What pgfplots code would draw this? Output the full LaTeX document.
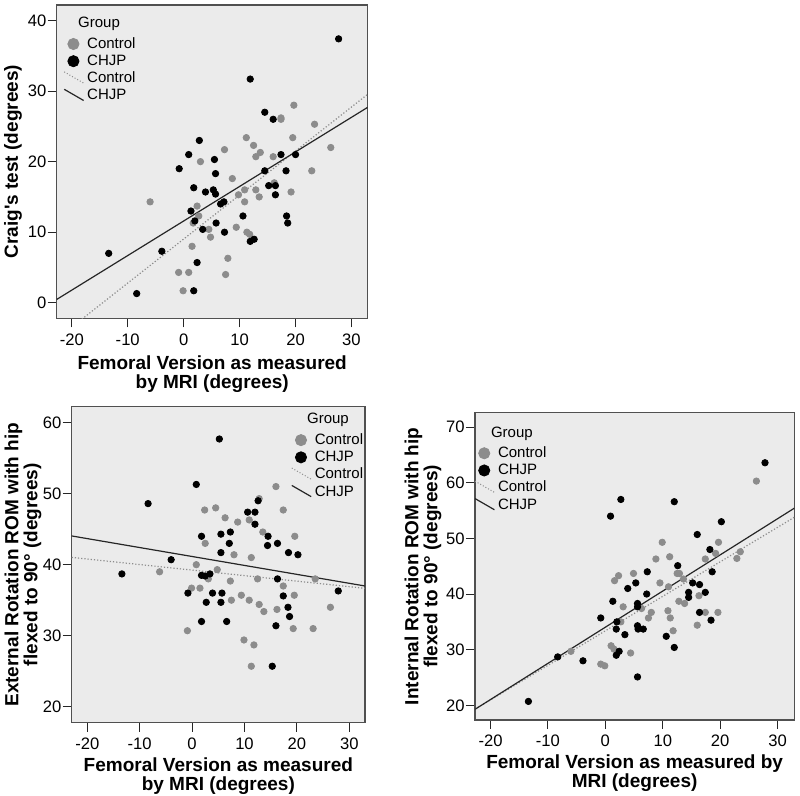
\documentclass[border=0pt]{standalone}
\usepackage{fontspec}
\setmainfont{Liberation Sans}
\usepackage{pgfplots}
\pgfplotsset{compat=1.18}
\definecolor{bg}{RGB}{235,235,235}
\definecolor{ctrl}{RGB}{140,140,140}
\definecolor{frame}{RGB}{80,80,80}

\pgfplotsset{
 spss/.style={
  scale only axis, anchor=south west,
  axis background/.style={fill=bg},
  axis line style={draw=frame, line width=0.6pt},
  tick align=outside, tick pos=left,
  major tick length=4.5pt, tick style={draw=black!85, line width=0.5pt},
  /pgf/number format/assume math mode=true,
  tick label style={font=\fontsize{8.3}{9}\selectfont},
  yticklabel style={inner sep=0.5pt},
  xticklabel style={inner sep=1pt, yshift=-2pt},
  legend style={draw=none, fill=none, inner sep=0pt, anchor=north west,
    font=\fontsize{7.5}{8}\selectfont, row sep=1.6pt, column sep=1.5pt,
    nodes={inner sep=0pt, text height=5.5pt, text depth=1.5pt}},
  legend cell align=left,
  xtick={-20,-10,...,30},
 },
 ctrlpts/.style={only marks, mark=*, mark size=1.6pt, color=ctrl, forget plot},
 chjppts/.style={only marks, mark=*, mark size=1.6pt, color=black, forget plot},
 ctrlline/.style={densely dotted, color=ctrl, line width=0.6pt, forget plot},
 chjpline/.style={black!85, line width=0.6pt, forget plot},
}
\newcommand{\grouplegend}[1]{%
 \addlegendimage{empty legend}
 \addlegendentry{\hspace*{-#1}\raisebox{1.5pt}{Group}}
 \addlegendimage{legend image code/.code={\fill[ctrl] (4.6pt,0pt) circle[radius=2.8pt];}}
 \addlegendentry{Control}
 \addlegendimage{legend image code/.code={\fill[black] (4.6pt,0pt) circle[radius=2.8pt];}}
 \addlegendentry{CHJP}
 \addlegendimage{legend image code/.code={\draw[densely dotted, ctrl, line width=0.5pt] (0pt,3.3pt) -- (9.7pt,-2.3pt);}}
 \addlegendentry{Control}
 \addlegendimage{legend image code/.code={\draw[black!85, line width=0.6pt] (0pt,3.3pt) -- (9.7pt,-2.3pt);}}
 \addlegendentry{CHJP}
}
\newcommand{\lab}{\fontsize{9.5}{9.5}\selectfont\bfseries}

\begin{document}
\begin{tikzpicture}
\useasboundingbox (0,0) rectangle (400pt,398pt);

% ---------------- Panel 1 ----------------
\begin{axis}[spss, name=a1, at={(28.35pt,238.85pt)}, width=155.5pt, height=156.65pt,
  xmin=-22.7, xmax=32.9, ymin=-2.2, ymax=42.2, ytick={0,10,...,40},
  legend style={at={(rel axis cs:0.021,0.954)}}]
\grouplegend{4.5pt}
\addplot[ctrlpts] coordinates {
(19.7,28.0) (17.4,26.2) (17.4,26.0) (23.4,25.3) (11.2,23.4) (19.5,23.4)
(12.5,22.3) (7.3,21.7) (13.7,21.3) (12.9,20.7) (16.0,20.7) (26.3,22.0)
(3.0,20.0) (22.9,18.7) (8.7,17.6) (16.2,17.0) (10.9,16.0) (12.9,16.0)
(9.8,15.3) (13.5,15.0) (19.2,15.7) (10.9,14.3) (-6.0,14.3) (2.4,13.7)
(2.7,12.3) (1.7,11.3) (4.5,10.4) (4.8,9.3) (9.4,10.7) (11.3,10.0)
(11.8,9.7) (1.5,8.0) (7.9,6.3) (7.5,4.0) (-0.9,4.3) (0.9,4.3) (-0.1,1.7)};
\addplot[chjppts] coordinates {
(27.7,37.4) (11.9,31.7) (14.5,27.0) (16.0,26.0) (2.8,23.0) (0.9,21.0)
(-0.8,19.0) (5.5,20.3) (5.7,18.3) (17.4,21.0) (20.0,21.0) (14.5,18.7)
(18.3,18.7) (1.8,16.3) (3.9,15.7) (5.3,16.0) (5.7,15.4) (15.2,16.6)
(16.4,16.6) (16.4,15.3) (7.2,14.3) (6.6,14.0) (1.3,13.0) (2.0,11.6)
(5.8,11.3) (10.6,12.3) (18.4,12.3) (18.6,11.3) (3.4,10.4) (7.3,10.0)
(12.6,9.0) (11.9,8.7) (-13.4,7.0) (-3.9,7.3) (2.4,5.7) (-8.4,1.3) (1.8,1.7)};
\addplot[ctrlline] coordinates {(-22.7,-5.13) (32.9,29.55)};
\addplot[chjpline] coordinates {(-22.7,0.47) (32.9,27.7)};
\end{axis}
\node[rotate=90, font=\lab] at ([xshift=-21.85pt]a1.west) {Craig\textquotesingle s test (degrees)};
\node[align=center, font=\lab] at ([yshift=-27.75pt]a1.south) {Femoral Version as measured\\by MRI (degrees)};

% ---------------- Panel 2 ----------------
\begin{axis}[spss, name=a2, at={(35.85pt,36.65pt)}, width=146.65pt, height=158pt,
  xmin=-22.98, xmax=33.0, ymin=17.75, ymax=62.25, ytick={20,30,...,60},
  legend style={at={(rel axis cs:0.747,0.972)}}]
\grouplegend{3.85pt}
\addplot[ctrlpts] coordinates {
(16.0,51.0) (12.8,49.3) (2.4,47.7) (4.5,48.0) (17.4,47.7) (6.3,46.6)
(8.7,46.0) (10.9,46.3) (13.5,44.6) (19.6,44.0) (2.5,43.0) (8.0,41.4)
(11.3,41.0) (0.8,40.0) (-6.2,39.0) (4.8,39.3) (3.1,38.0) (12.5,38.0)
(7.3,37.7) (23.5,38.0) (-0.1,36.7) (1.5,36.7) (17.4,37.0) (9.4,35.7)
(19.5,35.7) (7.5,35.0) (10.9,35.0) (12.8,34.4) (26.4,34.0) (13.7,33.4)
(16.2,33.7) (-0.9,30.7) (19.3,31.0) (23.1,31.0) (9.9,29.4) (11.8,28.7) (11.3,25.7)};
\addplot[chjppts] coordinates {
(5.2,57.7) (0.8,51.3) (-8.4,48.6) (12.6,49.0) (10.6,47.4) (12.0,47.4)
(12.0,45.7) (7.3,44.6) (5.5,44.3) (1.8,44.0) (14.5,44.0) (14.4,42.7)
(7.1,43.0) (16.3,43.0) (5.5,41.7) (18.4,41.7) (20.2,41.4) (-4.0,40.7)
(-13.4,38.7) (1.8,38.5) (2.5,38.4) (3.4,38.7) (16.3,38.0) (-0.8,36.0)
(3.9,36.0) (5.7,36.0) (17.4,35.6) (27.9,36.3) (2.7,34.7) (5.5,34.7)
(18.3,34.0) (18.6,32.7) (1.8,32.0) (6.6,32.0) (16.0,31.4) (15.3,25.7)};
\addplot[ctrlline] coordinates {(-23,41.03) (33,36.67)};
\addplot[chjpline] coordinates {(-23,44.05) (33,37.0)};
\end{axis}
\node[rotate=90, align=center, font=\lab] at ([xshift=-24.35pt]a2.west) {External Rotation ROM with hip\\flexed to 90° (degrees)};
\node[align=center, font=\lab] at ([yshift=-26.5pt]a2.south) {Femoral Version as measured\\by MRI (degrees)};

% ---------------- Panel 3 ----------------
\begin{axis}[spss, name=a3, at={(237.5pt,38pt)}, width=159.65pt, height=153.65pt,
  xmin=-22.7, xmax=32.9, ymin=17.36, ymax=72.6, ytick={20,30,...,70},
  legend style={at={(rel axis cs:-0.003,0.948)}}]
\grouplegend{3.5pt}
\addplot[ctrlpts] coordinates {
(26.3,60.3) (9.9,49.3) (19.7,49.3) (19.2,47.3) (23.5,47.6) (22.9,46.4)
(8.8,46.3) (11.2,46.7) (17.4,46.3) (2.3,43.3) (4.9,43.7) (1.6,42.4)
(12.5,43.7) (12.9,43.7) (9.5,42.0) (13.6,42.7) (11.0,41.3) (16.3,39.7)
(3.1,37.7) (6.3,37.4) (12.8,38.7) (13.8,38.3) (8.0,36.7) (7.5,35.7)
(10.9,37.0) (11.3,35.7) (17.4,36.7) (19.6,36.7) (16.0,34.4) (2.7,35.0)
(11.8,33.4) (1.0,30.7) (1.5,30.1) (-6.0,29.7) (4.4,29.4) (-0.8,27.4) (-0.1,27.1)};
\addplot[chjppts] coordinates {
(27.8,63.6) (2.7,57.0) (12.0,56.6) (0.9,54.0) (20.2,53.0) (16.0,50.7)
(18.2,48.0) (7.3,44.0) (18.6,44.0) (12.6,45.1) (5.3,42.0) (15.2,42.0)
(16.4,41.7) (3.9,41.0) (14.5,40.3) (17.4,40.3) (7.2,40.0) (14.5,39.4)
(1.3,38.7) (5.6,38.3) (5.6,37.7) (16.4,36.7) (-0.8,35.7) (2.0,35.0)
(18.4,35.3) (5.6,34.3) (1.9,33.7) (5.7,33.7) (6.6,33.7) (3.4,32.7)
(10.6,32.4) (12.0,30.4) (2.4,29.7) (1.9,29.0) (-8.3,28.7) (-3.9,28.0)
(5.6,25.1) (-13.4,20.7)};
\addplot[ctrlline] coordinates {(-22.7,19.3) (32.9,53.8)};
\addplot[chjpline] coordinates {(-22.7,19.28) (32.9,55.43)};
\end{axis}
\node[rotate=90, align=center, font=\lab] at ([xshift=-26pt]a3.west) {Internal Rotation ROM with hip\\flexed to 90° (degrees)};
\node[align=center, font=\lab] at ([yshift=-26.5pt]a3.south) {Femoral Version as measured by\\MRI (degrees)};
\end{tikzpicture}
\end{document}
